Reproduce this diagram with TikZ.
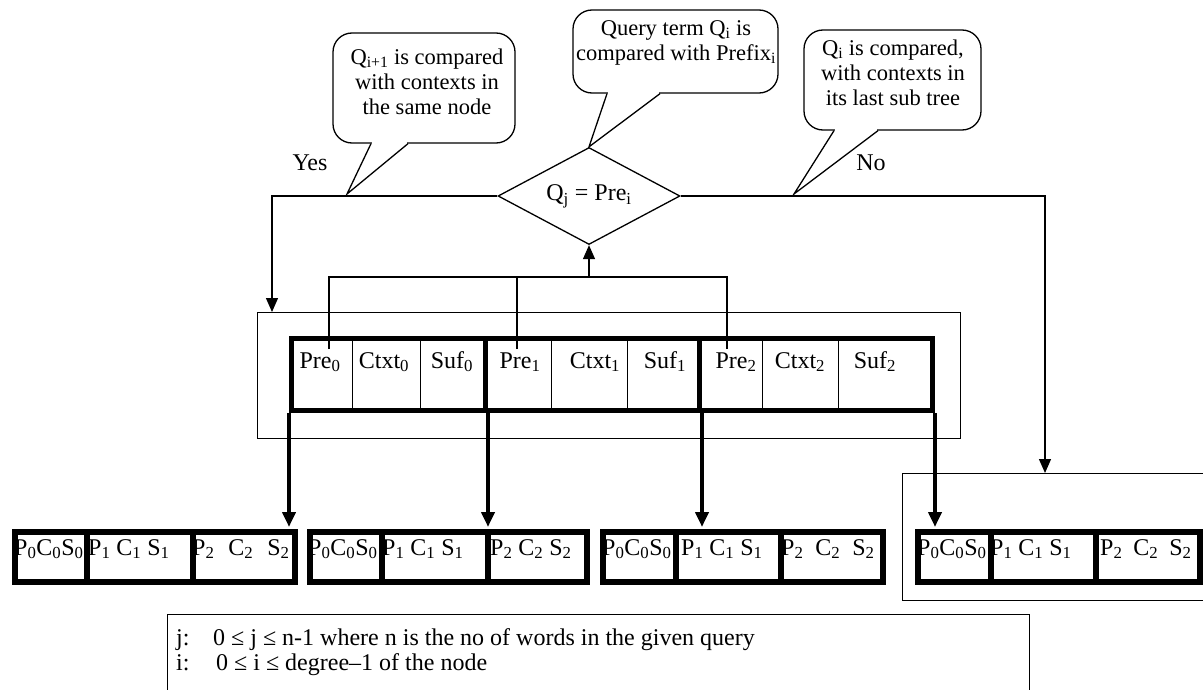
\documentclass[tikz,border=0pt]{standalone}
\usepackage{fontspec}
\setmainfont{Liberation Serif}
\usetikzlibrary{arrows.meta,shapes.geometric,calc}

% P_n C_n S_n with a chosen gap between the parts
\newcommand\pcstrip[2]{P\textsubscript{#2}\hspace{#1}C\textsubscript{#2}\hspace{#1}S\textsubscript{#2}}

\begin{document}
\begin{tikzpicture}[x=1pt,y=-1pt,
  ln/.style={line width=1.3pt},
  arr/.style={ln,-{Triangle[length=14pt,width=12pt]}},
  harr/.style={line width=4.5pt,-{Triangle[length=15pt,width=13pt]},shorten >=2pt},
  txt/.style={font=\fontsize{24}{25}\selectfont,inner sep=0pt},
  ctxt/.style={font=\fontsize{22.5}{25}\selectfont,align=center,inner sep=0pt},
  callbox/.style={draw,ln,fill=white,rounded corners=19pt,inner sep=0pt},
  frame/.style={draw,ln,anchor=north west,inner sep=0pt},
  cell/.style={draw,ln,anchor=north west,minimum height=72pt,inner sep=0pt},
  grp/.style={draw,line width=5pt,anchor=north west,minimum height=72pt,inner sep=0pt},
  ccell/.style={draw,line width=5.5pt,anchor=north west,minimum height=50pt,inner sep=0pt},
  ]
\useasboundingbox (0,0) rectangle (1203,690);
\clip (0,0) rectangle (1203,690);

% decision
\node[draw,ln,diamond,aspect=1.9,minimum width=182pt,minimum height=97pt,inner sep=0pt,txt] (d) at (589,196)
  {Q\textsubscript{j} = Pre\textsubscript{i}};

% node holding the prefix/context/suffix entries
\node[frame,minimum width=703pt,minimum height=126pt] (outer) at (257,312) {};
\foreach \nm/\xa/\w in {c0/289/63,c1/352/68,c2/420/63,c3/483/68,c4/551/76,c5/627/70,c6/697/65,c7/762/76,c8/838/92}
  \node[cell,minimum width=\w pt] (\nm) at (\xa,336) {};
\node[grp,minimum width=194pt] (g0) at (289,336) {};
\node[grp,minimum width=214pt] (g1) at (483,336) {};
\node[grp,minimum width=233pt] (g2) at (697,336) {};

\node[txt,anchor=base] (l0) at (320,368) {Pre\textsubscript{0}};
\node[txt,anchor=base] (l1) at (384,368) {Ctxt\textsubscript{0}};
\node[txt,anchor=base] (l2) at (452,368) {Suf\textsubscript{0}};
\node[txt,anchor=base] (l3) at (520,368) {Pre\textsubscript{1}};
\node[txt,anchor=base] (l4) at (595,368) {Ctxt\textsubscript{1}};
\node[txt,anchor=base] (l5) at (665,368) {Suf\textsubscript{1}};
\node[txt,anchor=base] (l6) at (736,368) {Pre\textsubscript{2}};
\node[txt,anchor=base] (l7) at (800,368) {Ctxt\textsubscript{2}};
\node[txt,anchor=base] (l8) at (875,368) {Suf\textsubscript{2}};

% prefixes feeding the comparison
\coordinate (lvl) at (0,277);
\coordinate (hub) at (d.south |- lvl);
\coordinate (s0) at (329,349);
\coordinate (s1) at (517,349);
\coordinate (s2) at (727,349);
\draw[ln] (s0) |- (hub);
\draw[ln] (s2) |- (hub);
\draw[ln] (s1) -- (s1 |- lvl);
\draw[arr] (hub) -- (d.south);

% right-hand sub tree frame
\node[frame,minimum width=330pt,minimum height=127pt] (rb) at (902,473) {};

% yes / no branches
\coordinate (yesin) at ([xshift=15pt]outer.north west);
\coordinate (noin) at ([xshift=143pt]rb.north west);
\draw[arr] (d.west) -| (yesin);
\draw[arr] (d.east) -| (noin);
\node[txt] (yes) at (310,163) {Yes};
\node[txt] (no) at (871,163) {No};

% child nodes
\foreach \b/\xa/\xb/\xc/\xd in {b1/12/84/190/292,b2/307/379/485/584,b3/600/673/778/880,b4/915/988/1093/1197}{
  \node[ccell,minimum width={(\xb-\xa)*1pt}] (\b a) at (\xa,529) {};
  \node[ccell,minimum width={(\xc-\xb)*1pt}] (\b b) at (\xb,529) {};
  \node[ccell,minimum width={(\xd-\xc)*1pt}] (\b c) at (\xc,529) {};
}
\foreach \nm/\xa/\g/\n in {t1a/14/0pt/0,t1b/88/6pt/1,t1c/192/14pt/2,
                        t2a/308/0pt/0,t2b/382/6pt/1,t2c/490/6pt/2,
                        t3a/602/0pt/0,t3b/681/6pt/1,t3c/781/12pt/2,
                        t4a/917/0pt/0,t4b/990/6pt/1,t4c/1100/11pt/2}
  \node[txt,anchor=base west] (\nm) at (\xa,555) {\pcstrip{\g}{\n}};

% descent to the children
\draw[harr] (g0.south west) -- (g0.south west |- b1c.north);
\draw[harr] (g0.south east) -- (g0.south east |- b2c.north);
\draw[harr] (g1.south east) -- (g1.south east |- b3b.north);
\draw[harr] (g2.south east) -- (g2.south east |- b4a.north);

% speech bubbles
\node[callbox,minimum width=182pt,minimum height=110pt] (k1) at (424,88) {};
\node[callbox,minimum width=205pt,minimum height=83pt] (k2) at (675.5,51.5) {};
\node[callbox,minimum width=177pt,minimum height=100pt] (k3) at (892.5,80) {};
\node[ctxt] (k1t) at (427,82) {Q\textsubscript{i+1} is compared\\with contexts in\\the same node};
\node[ctxt] (k2t) at (676,43) {Query term Q\textsubscript{i} is\\compared with Prefix\textsubscript{i}};
\node[ctxt] (k3t) at (893,73) {Q\textsubscript{i} is compared,\\with contexts in\\its last sub tree};

\coordinate (tip1) at (347,194);
\coordinate (tip3) at (794,194);
\foreach \k/\l/\r/\t in {k1/-53/-16/tip1,k2/-68.5/-15.5/d.north,k3/-58.5/-14.5/tip3}{
  \coordinate (bl) at ([xshift=\l pt]\k.south);
  \coordinate (br) at ([xshift=\r pt]\k.south);
  \fill[white] ($(bl)+(0.9,-1.2)$) rectangle ($(br)+(-0.9,1.2)$);
  \draw[ln,line join=miter] (bl) -- (\t) -- (br);
}

% legend
\node[frame,minimum width=862pt,minimum height=100pt] (legend) at (167,614) {};
\node[txt,anchor=base west] (leg1) at (176,645) {\makebox[37pt][l]{j:}0 ≤ j ≤ n-1 where n is the no of words in the given query};
\node[txt,anchor=base west] (leg2) at (176,670) {\makebox[40pt][l]{i:}0 ≤ i ≤ degree–1 of the node};
\end{tikzpicture}
\end{document}
